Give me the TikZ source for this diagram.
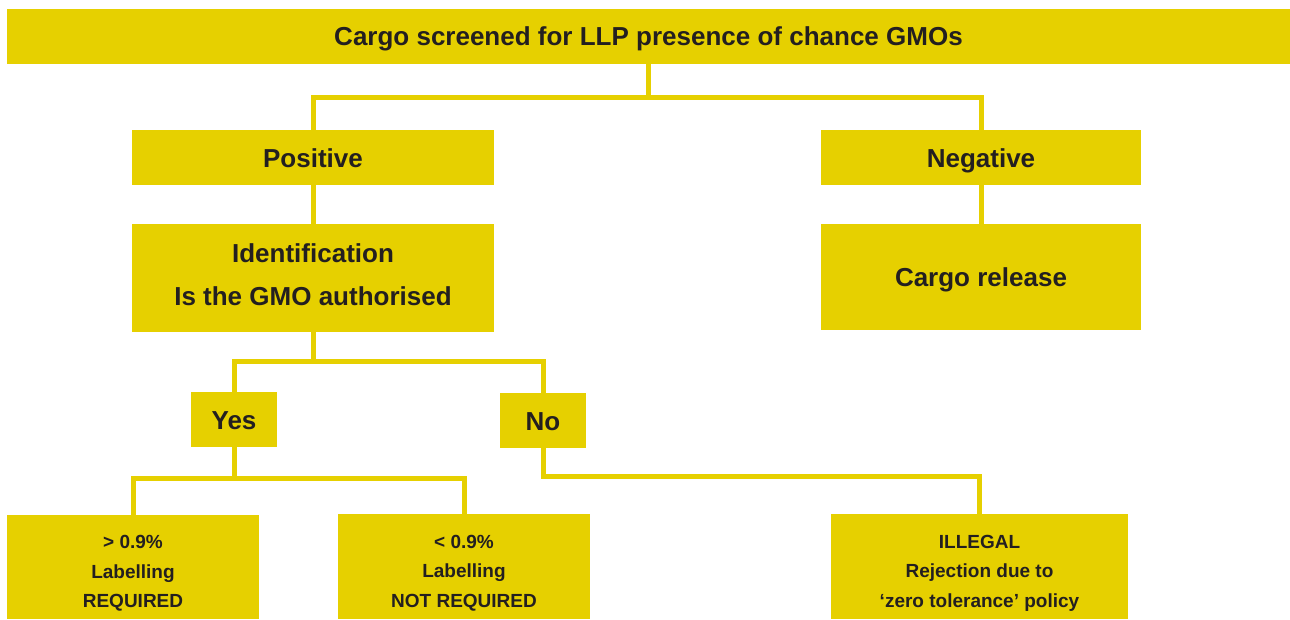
\documentclass[tikz,border=0pt]{standalone}
\usepackage{fontspec}
\setmainfont{Liberation Sans}
\definecolor{gold}{RGB}{230,208,0}
\definecolor{ink}{RGB}{35,31,32}
\begin{document}
\begin{tikzpicture}[x=1pt,y=-1pt,
  box/.style={fill=gold,draw=none,inner sep=0pt,text=ink,align=center,
    font=\bfseries\fontsize{26}{43}\selectfont},
  onebox/.style={box,text height=19pt,text depth=0pt},
  smallbox/.style={box,font=\bfseries\fontsize{19}{29.5}\selectfont},
  conn/.style={draw=gold,line width=5pt,line join=miter}]
\useasboundingbox (0,0) rectangle (1290,619);
% boxes
\node[onebox,minimum width=1283pt,minimum height=55pt] (top) at (648.5,36) {Cargo screened for LLP presence of chance GMOs};
\node[onebox,minimum width=362pt,minimum height=55pt] (pos) at (313,157.5) {Positive};
\node[onebox,minimum width=320pt,minimum height=55pt] (neg) at (981,157.5) {Negative};
\node[box,minimum width=362pt,minimum height=108pt] (ident) at (313,278) {Identification\\Is the GMO authorised\rule[-6pt]{0pt}{1pt}};
\node[onebox,minimum width=320pt,minimum height=106pt] (rel) at (981,277) {Cargo release};
\node[onebox,minimum width=86pt,minimum height=55pt] (yes) at (234,419.5) {Yes};
\node[onebox,minimum width=86pt,minimum height=55pt] (no) at (543,420.5) {No};
\node[smallbox,minimum width=252pt,minimum height=104pt] (b1) at (133,567) {\rule{0pt}{26pt}> 0.9\%\\Labelling\\REQUIRED};
\node[smallbox,minimum width=252pt,minimum height=105pt] (b2) at (464,566.5) {\rule{0pt}{26pt}< 0.9\%\\Labelling\\NOT REQUIRED};
\node[smallbox,minimum width=297pt,minimum height=105pt] (b3) at (979.5,566.5) {\rule{0pt}{26pt}ILLEGAL\\Rejection due to\\‘zero tolerance’ policy};
% junctions
\coordinate (j1) at (top.south |- 0,97);
\coordinate (j2) at (ident.south |- 0,361);
\coordinate (j3) at (yes.south |- 0,478);
\coordinate (j4) at (no.south |- 0,476);
% connectors
\draw[conn] (top.south) -- (j1);
\draw[conn] (pos.north) |- (j1) -| (neg.north);
\draw[conn] (pos.south) -- (ident.north);
\draw[conn] (neg.south) -- (rel.north);
\draw[conn] (ident.south) -- (j2);
\draw[conn] (yes.north) |- (j2) -| (no.north);
\draw[conn] (yes.south) -- (j3);
\draw[conn] (b1.north) |- (j3) -| (b2.north);
\draw[conn] (no.south) |- (b3.north |- j4) -- (b3.north);
\end{tikzpicture}
\end{document}
